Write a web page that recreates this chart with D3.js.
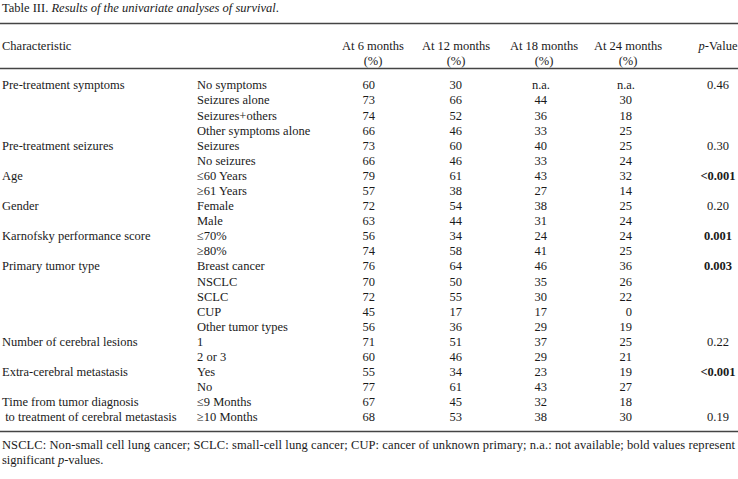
<!DOCTYPE html>
<html lang="en">
<head>
<meta charset="UTF-8">
<title>Table III</title>
<script src="https://cdn.jsdelivr.net/npm/d3@7"></script>
<style>
    html, body { margin: 0; padding: 0; background: #fff; }
    svg { display: block; }
    text { font-family: "Liberation Serif", "DejaVu Serif", serif; font-size: 12.5px; fill: #1a1a1a; }
</style>
</head>
<body>
<script>
// table data, one entry per row
const groups = ["Pre-treatment symptoms", "", "", "", "Pre-treatment seizures", "", "Age", "", "Gender", "",
    "Karnofsky performance score", "", "Primary tumor type", "", "", "", "", "Number of cerebral lesions", "",
    "Extra-cerebral metastasis", "", "Time from tumor diagnosis", " to treatment of cerebral metastasis"]
const subgroups = ["No symptoms", "Seizures alone", "Seizures+others", "Other symptoms alone", "Seizures", "No seizures",
    "≤60 Years", "≥61 Years", "Female", "Male", "≤70%", "≥80%", "Breast cancer", "NSCLC", "SCLC", "CUP",
    "Other tumor types", "1", "2 or 3", "Yes", "No", "≤9 Months", "≥10 Months"]
const m6 = [60, 73, 74, 66, 73, 66, 79, 57, 72, 63, 56, 74, 76, 70, 72, 45, 56, 71, 60, 55, 77, 67, 68]
const m12 = [30, 66, 52, 46, 60, 46, 61, 38, 54, 44, 34, 58, 64, 50, 55, 17, 36, 51, 46, 34, 61, 45, 53]
const m18 = ["n.a.", 44, 36, 33, 40, 33, 43, 27, 38, 31, 24, 41, 46, 35, 30, 17, 29, 37, 29, 23, 43, 32, 38]
const m24 = ["n.a.", 30, 18, 25, 25, 24, 32, 14, 25, 24, 24, 25, 36, 26, 22, 0, 19, 25, 21, 19, 27, 18, 30]
const pValues = ["0.46", "", "", "", "0.30", "", "<0.001", "", "0.20", "", "0.001", "", "0.003", "", "", "", "",
    "0.22", "", "<0.001", "", "", "0.19"]
const significant = ["<0.001", "0.001", "0.003"]

const headers = ["At 6 months", "At 12 months", "At 18 months", "At 24 months"]
const monthCols = [m6, m12, m18, m24]

const W = 738, H = 479
const svg = d3.select("body").append("svg")
    .attr("width", W)
    .attr("height", H)

// rows
const y = d3.scalePoint()
    .domain(d3.range(subgroups.length))
    .range([85, 417])

// column positions (right edge for numbers, centre for header)
const xNum = d3.scaleOrdinal().domain(d3.range(4)).range([375, 462, 547, 632])
const xHead = d3.scaleOrdinal().domain(d3.range(4)).range([373, 456, 544, 628])
const xP = 718

// title
const title = svg.append("text").attr("x", 2).attr("y", 8).attr("dy", "0.35em")
title.append("tspan").text("Table III. ")
title.append("tspan").attr("font-style", "italic").text("Results of the univariate analyses of survival")
title.append("tspan").text(".")

// rules
const rule = yy => svg.append("line")
    .attr("x1", 0).attr("x2", W)
    .attr("y1", yy).attr("y2", yy)
    .attr("stroke", "#444").attr("stroke-width", 1.3)
rule(23.5)
rule(68.5)
rule(431.5)

// header
svg.append("text").attr("x", 2).attr("y", 46).attr("dy", "0.35em").text("Characteristic")
svg.selectAll(".h1")
    .data(headers)
    .join("text")
    .attr("class", "h1")
    .attr("x", (d, i) => xHead(i))
    .attr("y", 46).attr("dy", "0.35em")
    .attr("text-anchor", "middle")
    .text(d => d)
svg.selectAll(".h2")
    .data(headers)
    .join("text")
    .attr("class", "h2")
    .attr("x", (d, i) => xHead(i))
    .attr("y", 61).attr("dy", "0.35em")
    .attr("text-anchor", "middle")
    .text("(%)")
const ph = svg.append("text").attr("x", xP).attr("y", 46).attr("dy", "0.35em").attr("text-anchor", "middle")
ph.append("tspan").attr("font-style", "italic").text("p")
ph.append("tspan").text("-Value")

// body
svg.selectAll(".grp")
    .data(groups)
    .join("text")
    .attr("class", "grp")
    .attr("x", 2)
    .attr("y", (d, i) => y(i)).attr("dy", "0.35em")
    .attr("xml:space", "preserve")
    .style("white-space", "pre")
    .text(d => d)

svg.selectAll(".sub")
    .data(subgroups)
    .join("text")
    .attr("class", "sub")
    .attr("x", 197)
    .attr("y", (d, i) => y(i)).attr("dy", "0.35em")
    .text(d => d)

monthCols.forEach((col, c) => {
    svg.selectAll(".c" + c)
        .data(col)
        .join("text")
        .attr("class", "c" + c)
        .attr("x", d => xNum(c) + (d === "n.a." ? 3 : 0))
        .attr("y", (d, i) => y(i)).attr("dy", "0.35em")
        .attr("text-anchor", "end")
        .text(d => d)
})

svg.selectAll(".pv")
    .data(pValues)
    .join("text")
    .attr("class", "pv")
    .attr("x", xP)
    .attr("y", (d, i) => y(i)).attr("dy", "0.35em")
    .attr("text-anchor", "middle")
    .attr("font-weight", d => significant.includes(d) ? "bold" : null)
    .text(d => d)

// footnote
svg.append("text").attr("x", 2).attr("y", 445).attr("dy", "0.35em")
    .attr("textLength", 733).attr("lengthAdjust", "spacing")
    .text("NSCLC: Non-small cell lung cancer; SCLC: small-cell lung cancer; CUP: cancer of unknown primary; n.a.: not available; bold values represent")
const fn2 = svg.append("text").attr("x", 2).attr("y", 460).attr("dy", "0.35em")
fn2.append("tspan").text("significant ")
fn2.append("tspan").attr("font-style", "italic").text("p")
fn2.append("tspan").text("-values.")
</script>
</body>
</html>
